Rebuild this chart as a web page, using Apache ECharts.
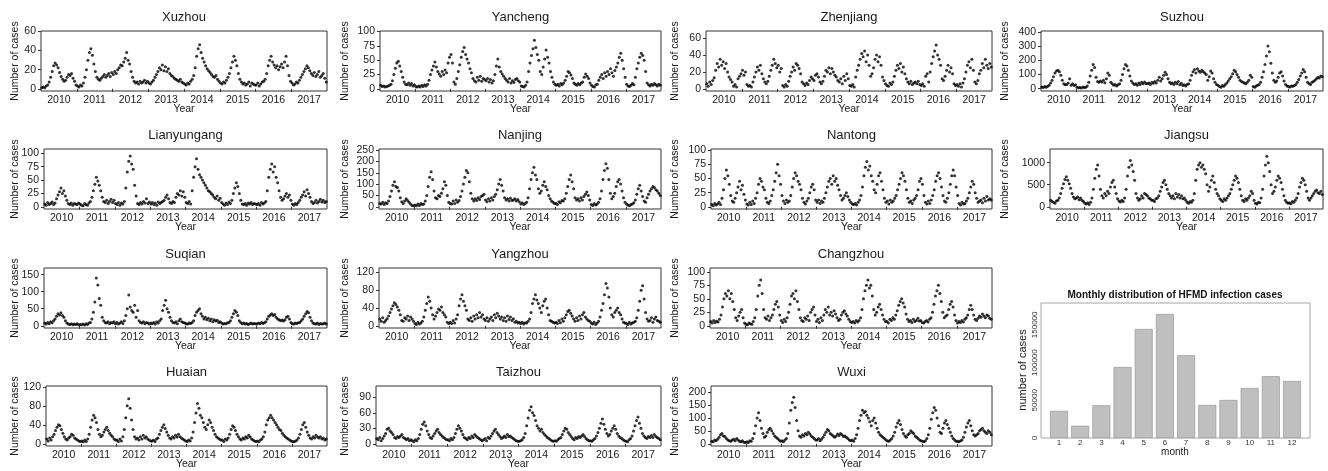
<!DOCTYPE html>
<html>
<head>
<meta charset="utf-8">
<title>HFMD cases, Jiangsu cities</title>
<script src="https://cdn.jsdelivr.net/npm/echarts@6/dist/echarts.min.js"></script>
<style>
  html, body { margin: 0; padding: 0; background: #fff; }
  #chart { width: 1328px; height: 471px; }
</style>
</head>
<body>
<div id="chart"></div>
<script>
// half-monthly case counts, Jan 2010 .. Dec 2017 (24 per year)
const years = [2010, 2011, 2012, 2013, 2014, 2015, 2016, 2017]

const xuzhou = [
  1,2,1,3,4,7,12,18,24,27,25,22,17,13,10,8,9,12,15,14,16,11,8,4,
  3,2,4,3,6,12,20,30,38,42,35,26,18,12,10,9,11,13,15,12,14,16,13,17,
  15,18,16,20,22,25,24,28,32,38,30,26,18,12,8,6,7,5,8,6,7,9,6,8,
  6,5,7,9,12,15,18,22,20,25,19,23,18,21,16,14,13,11,10,9,8,10,7,6,
  5,4,6,5,8,10,14,22,34,42,46,38,32,28,24,21,19,17,15,13,12,14,10,8,
  6,5,7,6,9,12,16,22,28,34,30,24,16,10,7,5,6,4,5,7,3,6,5,4,
  4,6,3,5,7,8,10,16,24,30,34,28,25,22,24,20,23,26,22,28,34,24,14,8,
  6,4,5,7,6,9,12,15,18,21,24,22,19,16,14,17,13,15,18,12,14,16,11,7
]
const yancheng = [
  6,4,5,3,4,5,6,8,14,25,36,45,48,40,30,20,12,8,7,10,6,9,5,7,
  4,3,5,3,6,4,7,5,8,15,25,33,40,47,38,30,26,22,30,25,33,28,45,55,
  60,45,12,8,18,30,42,55,65,72,60,52,45,35,28,18,14,12,20,15,22,13,18,16,
  14,18,12,16,10,14,25,40,52,38,30,26,22,18,15,12,18,10,14,11,16,18,14,12,
  5,4,3,6,12,30,45,58,70,85,72,60,50,30,25,38,52,68,55,45,30,20,12,8,
  6,8,5,9,7,10,15,22,30,28,24,18,10,8,6,9,7,10,12,20,26,22,18,10,
  6,4,3,7,8,15,20,25,18,28,22,30,25,35,28,22,32,38,45,55,62,50,35,20,
  8,5,4,6,9,7,20,35,45,55,62,58,50,30,10,7,5,8,6,9,7,5,8,6
]
const zhenjiang = [
  6,3,8,5,10,13,22,30,26,35,28,32,24,30,20,14,11,8,3,5,2,12,15,18,
  22,16,20,5,3,4,2,8,14,20,26,22,28,18,12,8,6,9,15,22,28,35,30,25,
  28,20,24,4,2,5,3,9,15,20,26,22,30,28,24,18,8,6,4,7,5,10,14,12,
  10,16,18,14,8,6,9,15,22,20,25,18,24,20,16,14,10,8,12,6,15,10,18,12,
  4,3,5,2,14,22,28,35,42,38,45,32,40,28,15,18,25,35,40,32,38,28,14,10,
  6,4,3,7,5,8,15,22,28,24,30,20,26,18,12,8,6,9,5,7,8,6,9,5,
  4,6,3,15,18,8,20,30,38,45,52,40,35,28,12,10,15,22,28,20,25,18,6,4,
  5,3,6,2,7,12,20,28,32,25,35,22,8,6,10,18,22,30,25,35,28,24,30,26
]
const suzhou = [
  12,8,15,10,18,25,40,60,85,110,125,130,120,95,60,35,28,30,40,70,25,35,22,28,
  10,6,8,5,12,8,10,20,45,90,130,170,150,80,50,45,55,48,60,42,70,110,95,45,
  35,25,30,20,28,35,60,100,140,170,160,130,90,55,40,30,35,25,40,30,45,35,48,36,
  35,40,30,45,38,50,40,60,80,55,70,95,115,100,70,45,35,40,30,45,35,50,28,38,
  22,28,20,30,35,60,95,120,135,110,140,125,115,130,120,110,100,60,85,125,110,70,45,30,
  25,15,10,22,18,30,40,55,70,85,105,130,120,100,80,60,50,45,40,35,45,60,95,80,
  15,10,20,25,30,45,80,120,170,230,300,260,180,110,60,45,55,80,110,120,90,55,30,20,
  15,12,20,18,22,30,45,65,90,110,135,120,80,45,35,30,45,50,60,70,80,75,90,85
]
const lianyungang = [
  5,3,8,4,6,9,4,7,15,22,28,35,25,30,20,12,6,4,7,3,6,5,4,7,
  5,3,2,6,4,3,7,10,18,30,42,55,48,40,30,18,10,8,12,6,10,14,8,12,
  6,4,8,3,7,5,10,35,65,85,95,80,70,40,20,6,4,8,5,10,7,15,6,9,
  5,8,4,7,3,9,6,8,10,12,18,22,15,8,6,10,8,18,25,22,30,20,28,18,
  8,6,10,5,30,55,75,90,70,60,55,50,45,40,35,30,28,25,22,18,15,20,12,16,
  8,5,3,7,4,9,6,12,25,35,45,38,25,12,5,4,6,3,7,5,8,4,6,5,
  4,6,3,8,5,7,10,30,55,70,80,65,75,55,45,30,18,12,15,20,25,18,22,12,
  5,3,6,4,8,12,18,22,28,20,32,25,18,10,6,8,12,7,10,14,9,12,8,10
]
const nanjing = [
  15,12,20,10,18,14,25,45,70,95,110,90,85,70,40,22,15,25,35,28,20,12,6,5,
  8,5,12,6,15,10,12,25,50,90,130,155,120,70,40,35,50,45,60,80,110,95,50,20,
  15,12,25,15,30,20,28,45,70,100,130,160,150,110,60,35,25,35,28,40,32,45,50,55,
  30,22,35,25,40,30,45,55,75,100,120,95,70,40,30,35,25,38,28,30,35,25,32,22,
  12,18,10,15,20,40,80,120,150,175,140,120,80,60,70,95,110,90,75,50,35,25,20,15,
  15,10,22,18,28,25,35,60,90,120,140,110,80,40,30,35,25,40,30,45,55,65,50,30,
  10,6,15,8,12,20,35,70,120,160,190,170,120,60,35,45,60,90,110,120,100,70,40,20,
  12,8,5,10,12,18,30,55,80,95,70,45,25,20,40,55,70,80,90,85,75,70,60,50
]
const nantong = [
  4,2,6,3,5,8,4,15,30,50,65,55,40,20,10,8,15,25,35,45,30,38,22,12,
  5,3,8,4,10,6,15,25,40,50,45,35,30,15,8,6,10,20,30,45,60,75,55,40,
  20,10,6,12,8,10,20,35,50,60,55,45,40,30,15,8,5,10,15,25,35,40,30,12,
  8,12,6,10,8,15,25,35,45,50,40,55,45,50,38,30,20,12,15,20,25,18,12,8,
  5,4,6,3,8,12,20,35,55,70,80,65,72,55,45,30,25,40,55,60,45,30,15,8,
  10,5,12,8,10,15,20,30,40,50,60,55,45,30,15,8,10,6,12,15,20,30,45,50,
  40,20,8,5,10,6,12,20,30,45,55,60,50,35,20,10,8,15,25,40,55,65,55,35,
  20,6,3,8,5,6,10,15,25,35,45,40,25,15,8,10,12,7,15,10,18,12,14,12
]
const jiangsu = [
  150,120,100,80,130,150,200,300,420,520,620,680,600,520,420,300,220,180,200,220,160,200,150,120,
  80,60,90,50,100,200,400,650,850,950,700,400,250,200,300,250,350,300,450,550,600,450,300,180,
  130,110,150,120,200,400,700,900,1050,950,800,600,300,200,150,180,250,200,300,280,250,200,180,150,
  150,120,180,200,250,350,450,550,600,500,400,300,250,200,250,180,300,220,280,200,250,180,200,150,
  100,80,120,100,150,300,600,850,950,1000,900,950,850,750,500,350,450,600,700,550,400,300,250,180,
  150,120,180,150,200,250,300,400,500,600,700,650,550,400,250,150,120,180,150,200,250,350,300,150,
  80,60,100,90,200,400,700,950,1150,1000,800,500,300,350,450,600,700,650,550,400,250,150,100,80,
  90,70,120,100,150,200,300,450,550,650,600,500,350,200,150,200,250,300,350,380,320,300,350,280
]
const suqian = [
  8,5,10,6,12,9,15,20,28,35,32,38,30,25,15,8,5,4,6,3,5,4,6,3,
  4,3,5,2,6,4,8,10,20,40,70,140,120,80,60,25,15,10,8,12,6,10,8,12,
  6,10,5,8,12,7,15,30,50,90,55,45,40,60,25,45,15,10,8,12,6,10,8,5,
  8,6,10,5,12,8,15,20,45,60,75,50,40,25,15,10,8,12,6,15,20,12,10,8,
  6,5,8,7,10,15,30,40,45,50,35,28,20,25,18,22,15,20,12,18,14,16,10,12,
  8,5,7,6,9,10,15,25,35,45,40,30,15,10,6,8,5,7,4,6,8,5,7,6,
  5,8,6,10,7,9,12,20,28,32,35,30,33,25,20,18,15,17,14,18,25,28,20,10,
  6,5,8,7,9,10,15,20,28,35,42,38,25,15,8,6,5,8,4,7,5,6,8,5
]
const yangzhou = [
  15,10,18,8,12,16,22,30,38,45,52,48,42,35,25,12,10,18,15,22,12,20,15,10,
  5,3,8,4,6,10,20,35,50,65,55,40,25,15,22,30,38,35,42,30,25,20,8,5,
  8,5,12,6,15,25,45,60,70,55,45,35,15,12,18,10,22,15,25,18,30,20,25,15,
  12,18,10,15,20,12,25,18,28,22,15,20,12,18,10,22,14,20,12,16,8,10,6,8,
  5,8,4,7,6,10,15,30,50,60,70,58,50,40,30,45,55,60,40,25,12,10,8,6,
  8,5,12,7,15,10,18,25,32,35,28,22,15,10,18,12,22,15,25,30,20,15,12,10,
  6,4,8,3,6,10,20,35,50,70,95,85,65,40,25,20,30,35,40,30,25,15,8,6,
  5,3,8,4,6,8,10,18,35,55,80,90,60,30,15,10,12,18,8,15,20,12,10,8
]
const changzhou = [
  8,5,10,6,9,7,12,20,35,50,60,55,65,50,60,45,30,15,10,18,25,30,15,5,
  3,2,5,4,3,8,15,30,55,75,85,60,30,15,12,18,10,15,20,30,40,45,35,20,
  10,6,12,8,15,25,40,55,60,50,65,45,30,15,10,8,15,12,18,10,25,30,35,20,
  8,12,6,15,10,20,30,25,35,20,25,18,28,22,15,10,12,20,25,28,22,18,12,8,
  6,8,5,10,7,10,15,30,50,65,75,85,70,75,55,30,20,25,35,40,30,20,12,8,
  8,5,12,10,15,12,20,28,38,45,50,42,35,22,12,8,10,6,12,8,10,14,9,10,
  6,5,8,10,7,12,15,25,40,55,65,75,60,45,25,15,18,20,30,40,45,35,20,10,
  5,8,6,10,7,12,15,20,30,38,30,20,12,10,14,18,16,22,18,15,20,18,14,12
]
const huaian = [
  10,6,12,8,15,20,28,35,40,38,30,22,15,10,8,12,15,20,18,12,10,8,6,5,
  6,4,8,5,10,20,35,50,60,55,45,30,20,15,18,25,30,35,28,22,18,15,10,8,
  8,5,10,6,15,30,55,80,95,75,50,30,15,10,12,8,15,10,18,12,15,10,8,6,
  6,8,5,10,12,20,28,35,40,32,25,18,12,10,15,12,18,14,20,15,12,10,8,6,
  5,8,6,12,25,45,65,85,75,60,55,45,35,30,40,50,45,35,28,20,15,12,10,8,
  8,5,10,8,12,20,30,38,35,28,20,15,10,8,12,10,15,12,18,14,10,8,6,5,
  6,4,8,10,15,25,40,50,55,60,55,50,45,40,35,30,28,22,18,15,12,10,8,6,
  5,4,6,8,12,20,30,40,45,35,25,18,12,10,15,12,18,14,12,15,10,12,8,10
]
const taizhou = [
  10,8,12,6,10,15,20,28,30,25,22,18,12,10,14,12,15,18,12,10,8,10,6,8,
  6,4,8,6,10,18,28,38,42,35,25,18,12,10,15,20,25,28,22,18,15,12,10,8,
  8,6,10,8,12,20,28,35,30,25,18,12,10,8,12,10,15,12,18,15,12,10,8,6,
  8,10,6,12,10,15,20,25,28,22,18,14,10,12,15,12,18,14,15,12,10,8,6,5,
  5,6,8,12,20,35,50,65,72,60,55,45,35,30,25,28,22,18,15,12,10,8,6,5,
  6,5,8,10,12,18,25,30,28,22,18,14,10,8,12,10,14,12,15,18,14,10,8,6,
  6,5,8,10,15,22,30,40,48,38,28,20,15,18,25,30,35,28,20,15,12,10,8,6,
  5,4,8,10,15,25,35,45,52,40,30,20,15,12,10,14,12,16,12,18,14,12,10,8
]
const wuxi = [
  10,8,15,12,18,25,35,40,30,28,20,15,12,10,15,18,12,20,15,10,8,12,6,5,
  8,5,12,10,20,40,70,100,120,90,60,40,25,30,45,55,60,50,40,30,25,20,15,10,
  12,8,15,20,40,80,130,160,180,140,90,50,30,25,35,30,40,35,45,38,30,25,20,15,
  15,20,12,18,25,35,45,55,50,40,35,30,25,30,38,32,40,35,28,30,25,20,15,12,
  15,10,20,35,60,90,110,130,120,125,110,100,85,70,90,100,80,60,45,35,30,25,20,15,
  12,10,15,20,30,45,65,80,90,75,55,40,30,25,35,40,50,45,40,30,25,20,15,12,
  10,8,12,20,35,60,95,120,140,130,100,70,45,40,60,80,90,75,60,45,30,20,15,10,
  10,8,12,15,25,45,65,80,90,70,50,35,30,35,40,50,55,60,50,45,40,50,45,35
]

// monthly totals for the bar panel
const months = ['1', '2', '3', '4', '5', '6', '7', '8', '9', '10', '11', '12']
const monthlyCases = [36000, 16300, 43400, 94200, 144600, 164500, 109700, 43800, 50400, 66300, 81900, 75600]
const monthlyTicks = [0, 50000, 100000, 150000]

// panel layout: row/col in the 4x4 grid, left edge of the plot box, y range and y ticks
const panels = [
  { name: 'Xuzhou', values: xuzhou, row: 0, col: 0, left: 41, yMin: -2.3, yMax: 60.5, yTicks: [0, 20, 40, 60] },
  { name: 'Yancheng', values: yancheng, row: 0, col: 1, left: 380, yMin: -3.9, yMax: 101, yTicks: [0, 25, 50, 75, 100] },
  { name: 'Zhenjiang', values: zhenjiang, row: 0, col: 2, left: 706, yMin: -2.6, yMax: 68.6, yTicks: [0, 20, 40, 60] },
  { name: 'Suzhou', values: suzhou, row: 0, col: 3, left: 1041, yMin: -16, yMax: 406, yTicks: [0, 100, 200, 300, 400] },
  { name: 'Lianyungang', values: lianyungang, row: 1, col: 0, left: 44, yMin: -4.2, yMax: 108, yTicks: [0, 25, 50, 75, 100] },
  { name: 'Nanjing', values: nanjing, row: 1, col: 1, left: 379, yMin: -9.8, yMax: 255, yTicks: [0, 50, 100, 150, 200, 250] },
  { name: 'Nantong', values: nantong, row: 1, col: 2, left: 711, yMin: -3.9, yMax: 102, yTicks: [0, 25, 50, 75, 100] },
  { name: 'Jiangsu', values: jiangsu, row: 1, col: 3, left: 1050, yMin: -51, yMax: 1312, yTicks: [0, 500, 1000] },
  { name: 'Suqian', values: suqian, row: 2, col: 0, left: 44, yMin: -6.5, yMax: 169.5, yTicks: [0, 50, 100, 150] },
  { name: 'Yangzhou', values: yangzhou, row: 2, col: 1, left: 379, yMin: -5, yMax: 130, yTicks: [0, 40, 80, 120] },
  { name: 'Changzhou', values: changzhou, row: 2, col: 2, left: 710, yMin: -4.1, yMax: 107, yTicks: [0, 25, 50, 75, 100] },
  { name: 'Huaian', values: huaian, row: 3, col: 0, left: 46, yMin: -4.7, yMax: 121.7, yTicks: [0, 40, 80, 120] },
  { name: 'Taizhou', values: taizhou, row: 3, col: 1, left: 376, yMin: -4.3, yMax: 112, yTicks: [0, 30, 60, 90] },
  { name: 'Wuxi', values: wuxi, row: 3, col: 2, left: 711, yMin: -8.6, yMax: 223.6, yTicks: [0, 50, 100, 150, 200] }
]

const rowTops = [31, 149, 268, 386]
const colRights = [327, 661, 992, 1323]
const nameX = [15, 345, 675, 1005]
const PANEL_H = 60
const FONT = '"Liberation Sans", Arial, Helvetica, sans-serif'
const INK = '#1a1a1a'

const yearLabelPos = years.map(y => y + 0.5)
const yearBreaks = years.slice(1)

const grids = []
const xAxes = []
const yAxes = []
const series = []
const texts = []

function label (text, x, y, size, extra) {
  return Object.assign({
    type: 'text',
    x: x,
    y: y,
    silent: true,
    style: {
      text: text,
      fontSize: size,
      fontFamily: FONT,
      fill: INK,
      align: 'center',
      verticalAlign: 'middle',
      textAlign: 'center',
      textVerticalAlign: 'middle'
    }
  }, extra || {})
}

panels.forEach((p, i) => {
  const top = rowTops[p.row]
  const right = colRights[p.col]
  const width = right - p.left
  grids.push({
    left: p.left, top: top, width: width, height: PANEL_H,
    show: true, borderColor: '#333', borderWidth: 1,
    outerBoundsMode: 'none', containLabel: false
  })
  xAxes.push({
    type: 'value', gridIndex: i,
    min: years[0], max: years[years.length - 1] + 1,
    splitLine: { show: false },
    axisLine: { show: false },
    axisTick: { show: true, customValues: yearBreaks, length: 3, lineStyle: { color: '#333' } },
    axisLabel: {
      customValues: yearLabelPos,
      formatter: v => String(Math.floor(v)),
      fontSize: 10.5, fontFamily: FONT, color: INK, margin: 4
    }
  })
  yAxes.push({
    type: 'value', gridIndex: i,
    min: p.yMin, max: p.yMax,
    splitLine: { show: false },
    axisLine: { show: false },
    axisTick: { show: true, customValues: p.yTicks, length: 3, lineStyle: { color: '#333' } },
    axisLabel: {
      customValues: p.yTicks,
      formatter: v => String(v),
      fontSize: 10.5, fontFamily: FONT, color: INK, margin: 5
    }
  })
  series.push({
    type: 'scatter', xAxisIndex: i, yAxisIndex: i,
    symbol: 'circle', symbolSize: 3,
    itemStyle: { color: '#000' },
    silent: true,
    data: p.values.map((v, k) => [years[0] + (k + 0.5) / 24, v])
  })
  const cx = (p.left + right) / 2
  texts.push(label(p.name, cx, top - 14, 13))
  texts.push(label('Number of cases', nameX[p.col], top + PANEL_H / 2, 10.5, { rotation: Math.PI / 2 }))
  texts.push(label('Year', cx, top + PANEL_H + 18.5, 10.5))
})

// monthly distribution bar panel
const barIdx = panels.length
grids.push({ left: 1048.4, top: 303, width: 254.2, height: 135, show: false, outerBoundsMode: 'none', containLabel: false })
xAxes.push({
  type: 'category', gridIndex: barIdx, data: months,
  axisLine: { show: false },
  axisTick: { show: false },
  axisLabel: { fontSize: 8, fontFamily: FONT, color: '#333', margin: 1 }
})
yAxes.push({
  type: 'value', gridIndex: barIdx, min: 0, max: 179000,
  splitLine: { show: false },
  axisLine: { show: false },
  axisTick: { show: false },
  axisLabel: {
    customValues: monthlyTicks,
    formatter: v => String(v),
    rotate: 90, fontSize: 8, fontFamily: FONT, color: '#333', margin: 10
  }
})
series.push({
  type: 'bar', xAxisIndex: barIdx, yAxisIndex: barIdx,
  data: monthlyCases, barWidth: 18,
  itemStyle: { color: '#bfbfbf', borderColor: '#9a9a9a', borderWidth: 0.7 },
  silent: true
})
texts.push({
  type: 'rect', silent: true,
  shape: { x: 1041, y: 303, width: 269, height: 135 },
  style: { fill: 'none', stroke: '#a6a6a6', lineWidth: 1 }
})
texts.push(label('Monthly distribution of HFMD infection cases', 1175, 295, 10, { style: {
  text: 'Monthly distribution of HFMD infection cases', fontSize: 10, fontWeight: 'bold', fontFamily: FONT, fill: '#111',
  align: 'center', verticalAlign: 'middle', textAlign: 'center', textVerticalAlign: 'middle'
} }))
texts.push(label('number of cases', 1023, 370, 11, { rotation: Math.PI / 2 }))
texts.push(label('month', 1175, 452, 10))

const chart = echarts.init(document.getElementById('chart'))
chart.setOption({
  animation: false,
  backgroundColor: '#fff',
  grid: grids,
  xAxis: xAxes,
  yAxis: yAxes,
  series: series,
  graphic: { elements: texts }
})
</script>
</body>
</html>
